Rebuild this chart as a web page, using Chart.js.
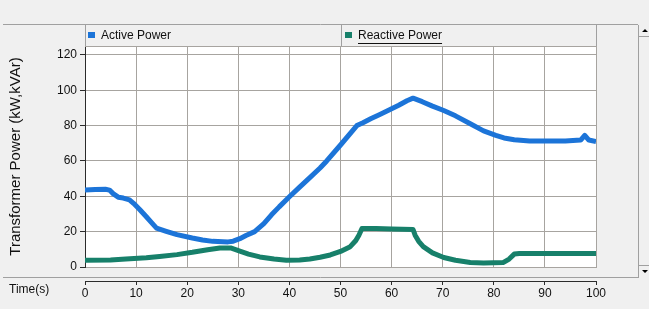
<!DOCTYPE html>
<html>
<head>
<meta charset="utf-8">
<script src="https://cdn.jsdelivr.net/npm/chart.js@4"></script>
<style>
  html, body { margin: 0; padding: 0; background: #f0f0f0; }
  canvas { display: block; }
</style>
</head>
<body>
<canvas id="powerChart" width="649" height="309"></canvas>
<script>
const activeTime = [0, 2, 4, 4.8, 5.5, 6.5, 7.5, 8.7, 9.5, 10.7, 12, 13.2, 14, 15.9, 18, 21, 23, 25, 28, 29, 30.3, 31.5, 33.2, 35, 36.5, 38, 40, 42, 44, 46, 47.3, 50, 53.2, 54.3, 56, 57.7, 60, 61.4, 63, 64.2, 66, 68, 70.2, 72.5, 75.4, 78, 80.4, 82, 84, 87, 90, 94, 97, 97.8, 98.6, 100];
const activePower = [43.5, 43.8, 44, 43.5, 41.5, 39.5, 39, 38, 36, 32.5, 28.4, 24.5, 22, 20.2, 18.3, 16.4, 15.3, 14.5, 14.2, 14.6, 16, 17.8, 20, 24.5, 29.5, 34, 39.7, 45.2, 50.5, 56, 60, 69, 80, 81.5, 84, 86.3, 89.5, 91.5, 94, 95.5, 93.5, 91, 88.5, 85.5, 81, 77, 74.5, 73, 72, 71.3, 71.3, 71.3, 71.8, 74.5, 71.8, 71];

const reactiveTime = [0, 5, 8, 12, 14.6, 18, 21, 24, 26.4, 28.5, 30.3, 32, 34.2, 37, 39.4, 42, 44, 46, 48, 50, 51.9, 53, 53.6, 54.2, 57, 60, 64.2, 64.6, 65.3, 66.2, 68, 70.2, 72.5, 75.4, 78, 81.9, 83, 84, 85, 90, 100];
const reactivePower = [3.8, 4, 4.5, 5.2, 6, 7, 8.3, 9.8, 10.8, 10.8, 9, 7.3, 5.7, 4.5, 3.8, 4, 4.5, 5.5, 6.8, 8.8, 11.5, 15, 18, 21.8, 21.8, 21.5, 21.2, 18, 14.5, 11.5, 8, 5.4, 3.8, 2.6, 2.3, 2.6, 4.5, 7.3, 7.6, 7.6, 7.6];

const xTickValues = [0, 10, 20, 30, 40, 50, 60, 70, 80, 90, 100];
const yTickValues = [0, 20, 40, 60, 80, 100, 120];

const FONT = "'Liberation Sans', Arial, sans-serif";
const GRID = '#a7a4a0';
const AXIS = '#2b2b2b';

const toPoints = (ts, vs) => ts.map((t, i) => ({ x: t, y: vs[i] }));
const setTicks = (values) => (scale) => { scale.ticks = values.map(v => ({ value: v })); };

// window chrome: grey background, legend strip, scrollbar, separators
const frame = {
    id: 'frame',
    beforeDraw(chart) {
        const { ctx, chartArea: a } = chart;
        ctx.save();
        ctx.fillStyle = '#f0f0f0';
        ctx.fillRect(0, 0, chart.width, chart.height);
        ctx.fillStyle = '#ffffff';
        ctx.fillRect(a.left, a.top, a.right - a.left, a.bottom - a.top);

        ctx.strokeStyle = '#a0a0a0';
        ctx.lineWidth = 1;
        ctx.beginPath();
        ctx.moveTo(3, 24.5); ctx.lineTo(638, 24.5);
        ctx.moveTo(3, 277.5); ctx.lineTo(638, 277.5);
        // legend strip cells
        ctx.moveTo(85.5, 25); ctx.lineTo(85.5, a.top);
        ctx.moveTo(341.5, 25); ctx.lineTo(341.5, a.top);
        ctx.moveTo(596.5, 25); ctx.lineTo(596.5, a.top);
        // scrollbar
        ctx.moveTo(638.5, 25); ctx.lineTo(638.5, 278);
        ctx.moveTo(639, 36.5); ctx.lineTo(649, 36.5);
        ctx.moveTo(639, 265.5); ctx.lineTo(649, 265.5);
        ctx.stroke();

        ctx.fillStyle = '#000';
        ctx.beginPath();
        ctx.moveTo(642, 32); ctx.lineTo(648, 32); ctx.lineTo(645, 29); ctx.closePath();
        ctx.moveTo(642, 270); ctx.lineTo(648, 270); ctx.lineTo(645, 273); ctx.closePath();
        ctx.fill();
        ctx.restore();
    },
    beforeDatasetsDraw(chart) {
        const { ctx, chartArea: a } = chart;
        ctx.save();
        ctx.strokeStyle = GRID;
        ctx.lineWidth = 1;
        ctx.beginPath();
        ctx.moveTo(a.left, a.top + 0.5); ctx.lineTo(a.right + 0.5, a.top + 0.5);
        ctx.lineTo(a.right + 0.5, a.bottom);
        ctx.stroke();
        ctx.restore();
    },
    afterDraw(chart) {
        const { ctx } = chart;
        const spots = [88, 345];
        ctx.save();
        ctx.font = `12px ${FONT}`;
        ctx.textBaseline = 'middle';
        chart.data.datasets.forEach((ds, i) => {
            const x = spots[i];
            ctx.fillStyle = ds.borderColor;
            ctx.fillRect(x, 32, 7, 6);
            ctx.fillStyle = '#111';
            ctx.fillText(ds.label, x + 13, 36);
            if (i === 1) {
                const w = ctx.measureText(ds.label).width;
                ctx.fillRect(x + 13, 43, w, 1);
            }
        });
        ctx.fillStyle = '#111';
        ctx.fillText('Time(s)', 9, 290);
        ctx.restore();
    }
};

new Chart(document.getElementById('powerChart'), {
    type: 'line',
    data: {
        datasets: [{
            label: 'Active Power',
            data: toPoints(activeTime, activePower),
            borderColor: '#1c74d8',
            borderWidth: 5,
            pointRadius: 0,
            tension: 0,
            borderJoinStyle: 'round',
            order: 1
        }, {
            label: 'Reactive Power',
            data: toPoints(reactiveTime, reactivePower),
            borderColor: '#17806a',
            borderWidth: 5,
            pointRadius: 0,
            tension: 0,
            borderJoinStyle: 'round',
            order: 0
        }]
    },
    options: {
        responsive: false,
        animation: false,
        layout: { padding: { top: 46, right: 53, bottom: 0, left: 0 } },
        plugins: { legend: { display: false }, tooltip: { enabled: false } },
        scales: {
            x: {
                type: 'linear', position: 'bottom', min: 0, max: 100, weight: 0,
                afterBuildTicks: setTicks(xTickValues),
                afterFit: s => { s.height = 14; },
                ticks: { display: false },
                grid: { color: GRID, drawTicks: false },
                border: { color: GRID }
            },
            x2: {
                type: 'linear', position: 'bottom', min: 0, max: 100, weight: 1,
                afterBuildTicks: setTicks(xTickValues),
                afterFit: s => { s.height = 28; },
                ticks: { color: '#111', font: { family: FONT, size: 12 }, padding: 1, maxRotation: 0 },
                grid: { drawOnChartArea: false, tickLength: 4, tickColor: AXIS },
                border: { color: AXIS }
            },
            y: {
                min: 0, max: 125,
                afterBuildTicks: setTicks(yTickValues),
                afterFit: s => { s.width = 85; },
                ticks: { color: '#111', font: { family: FONT, size: 12 }, padding: 3 },
                grid: { color: GRID, tickLength: 5, tickColor: AXIS },
                border: { color: AXIS },
                title: {
                    display: true,
                    text: 'Transformer Power (kW,kVAr)',
                    color: '#111',
                    font: { family: FONT, size: 15 },
                    padding: { top: 7, bottom: 0 }
                }
            }
        }
    },
    plugins: [frame]
});
</script>
</body>
</html>
